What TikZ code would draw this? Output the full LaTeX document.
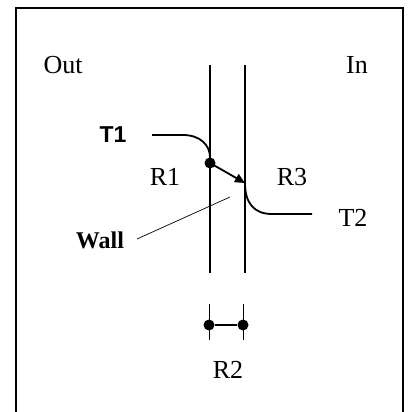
\documentclass[tikz,border=0pt]{standalone}
\usepackage{fontspec}
\setmainfont{Liberation Serif}
\newfontfamily\labelsans{Liberation Sans}
\usetikzlibrary{arrows.meta}

\tikzset{
  lbl/.style={font=\fontsize{26}{30}\selectfont, inner sep=0pt},
  wallline/.style={line width=1.9pt},
  flow/.style={line width=1.8pt},
  joint/.style={circle, fill=black, inner sep=0pt, minimum size=11pt},
}

\begin{document}
\begin{tikzpicture}[x=1pt,y=-1pt]
  \useasboundingbox (0,0) rectangle (418,412);
  % frame, its bottom edge lies off the page
  \draw[line width=1.3pt] (16,412) |- (403,8) -- (403,412);

  % the two faces of the wall
  \coordinate (lt) at (210,65);  \coordinate (lb) at (210,273);
  \coordinate (rt) at (245,65);  \coordinate (rb) at (245,273);
  \draw[wallline] (lt) -- (lb);
  \draw[wallline] (rt) -- (rb);

  % labels
  \node[lbl] (out) at (63,65) {Out};
  \node[lbl] (in)  at (357,65) {In};
  \node[lbl, font=\labelsans\bfseries\fontsize{23}{26}\selectfont] (tone) at (113,135) {T1};
  \node[lbl] (rone)   at (165,177) {R1};
  \node[lbl] (rthree) at (292,177) {R3};
  \node[lbl] (ttwo)   at (353,218) {T2};
  \node[lbl, font=\bfseries\fontsize{24}{28}\selectfont] (wall) at (100,240) {Wall};
  \node[lbl] (rtwo)   at (228,370) {R2};

  % temperature profile
  \coordinate (tonestart) at (152,135);
  \coordinate (ttwoend) at (312,214);
  \node[joint] (hot) at (210,163) {};
  \coordinate (cold) at (245,183);
  \draw[flow] (tonestart) -- (183,135) .. controls (200,135) and (210,145) .. (hot.north);
  \draw[flow, -{Triangle[length=10pt,width=9pt]}] (hot.center) -- (cold);
  \draw[flow] (cold) .. controls (245,203) and (254,214) .. (272,214) -- (ttwoend);

  % leader to the wall
  \coordinate (wallpt) at (230,197);
  \draw[line width=0.7pt] (137,239) -- (wallpt);

  % wall thickness
  \foreach \x/\n in {209/a,243/b} {
    \draw[line width=0.8pt] (\x,304) -- (\x,340);
    \node[joint] (dim\n) at (\x,325) {};
  }
  \draw[flow] (dima) -- (dimb);
\end{tikzpicture}
\end{document}
